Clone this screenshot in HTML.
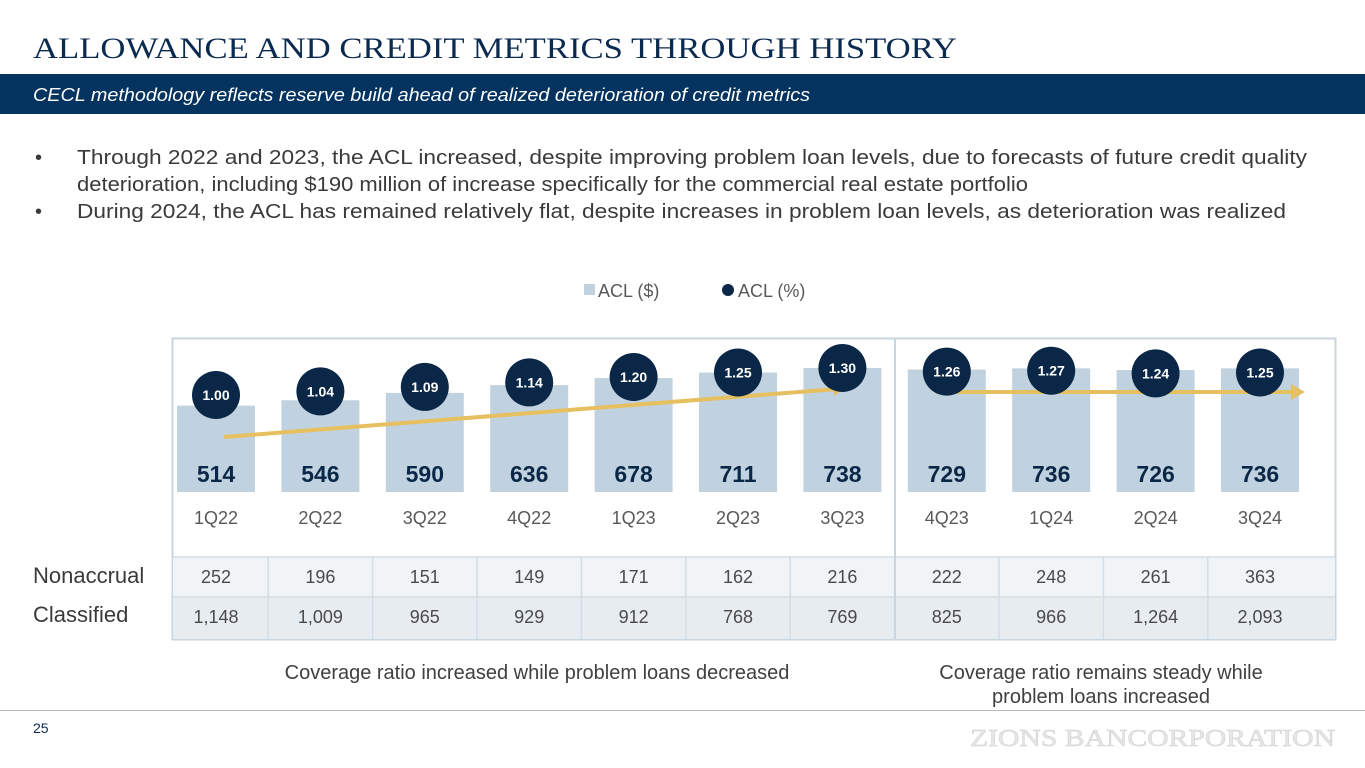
<!DOCTYPE html>
<html><head><meta charset="utf-8"><style>
html,body{margin:0;padding:0;background:#fff;width:1365px;height:768px;overflow:hidden}
svg{display:block}
text{font-family:"Liberation Sans",sans-serif}
</style></head><body>
<svg id="s" width="1365" height="768" viewBox="0 0 1365 768" xmlns="http://www.w3.org/2000/svg">
<text x="33" y="58" style="font-family:'Liberation Serif',serif" font-size="30" fill="#0b2a50" textLength="924" lengthAdjust="spacingAndGlyphs">ALLOWANCE AND CREDIT METRICS THROUGH HISTORY</text>
<rect x="0" y="74" width="1365" height="40" fill="#04335f"/>
<text x="33" y="101" font-size="18" font-style="italic" fill="#fff" textLength="777" lengthAdjust="spacingAndGlyphs">CECL methodology reflects reserve build ahead of realized deterioration of credit metrics</text>
<g font-size="20" fill="#3a3a3a">
<text x="35" y="164">•</text>
<text x="77" y="164" textLength="1230" lengthAdjust="spacingAndGlyphs">Through 2022 and 2023, the ACL increased, despite improving problem loan levels, due to forecasts of future credit quality</text>
<text x="77" y="191" textLength="951" lengthAdjust="spacingAndGlyphs">deterioration, including $190 million of increase specifically for the commercial real estate portfolio</text>
<text x="35" y="218">•</text>
<text x="77" y="218" textLength="1209" lengthAdjust="spacingAndGlyphs">During 2024, the ACL has remained relatively flat, despite increases in problem loan levels, as deterioration was realized</text>
</g>
<g font-size="18" fill="#595959">
<rect x="584" y="284" width="11" height="11" fill="#c0d2e0"/>
<text x="598" y="297">ACL ($)</text>
<circle cx="728" cy="290" r="6" fill="#0a2747"/>
<text x="738" y="297">ACL (%)</text>
</g>
<rect x="172.5" y="338.5" width="1163" height="301" fill="none" stroke="#c8d6e2" stroke-width="2"/>
<g id="table"></g>
<line x1="895" y1="338" x2="895" y2="640" stroke="#c8d6e2" stroke-width="2"/>
<g id="bars"></g>
<g id="trend"></g>
<g id="dots"></g>
<text x="33" y="583" font-size="22" fill="#3a3a3a">Nonaccrual</text>
<text x="33" y="622" font-size="22" fill="#3a3a3a">Classified</text>
<g font-size="20" fill="#404040" text-anchor="middle">
<text x="537" y="679">Coverage ratio increased while problem loans decreased</text>
<text x="1101" y="679">Coverage ratio remains steady while</text>
<text x="1101" y="703">problem loans increased</text>
</g>
<line x1="0" y1="710.5" x2="1365" y2="710.5" stroke="#bdbdbd" stroke-width="1"/>
<text x="33" y="733" font-size="14" fill="#0b2a50">25</text>
<text x="970" y="746" style="font-family:'Liberation Serif',serif" font-size="24" fill="#e6e6e6" stroke="#d0d0d0" stroke-width="0.5" textLength="365" lengthAdjust="spacingAndGlyphs">ZIONS BANCORPORATION</text>
</svg>
<script>
const quarters=["1Q22","2Q22","3Q22","4Q22","1Q23","2Q23","3Q23","4Q23","1Q24","2Q24","3Q24"];
const aclDollars=[514,546,590,636,678,711,738,729,736,726,736];
const aclPct=[1.00,1.04,1.09,1.14,1.20,1.25,1.30,1.26,1.27,1.24,1.25];
const pctLabels=["1.00","1.04","1.09","1.14","1.20","1.25","1.30","1.26","1.27","1.24","1.25"];
const nonaccrual=["252","196","151","149","171","162","216","222","248","261","363"];
const classified=["1,148","1,009","965","929","912","768","769","825","966","1,264","2,093"];

const NS="http://www.w3.org/2000/svg";
function mk(t,a,p){const e=document.createElementNS(NS,t);for(const k in a)e.setAttribute(k,a[k]);p.appendChild(e);return e;}
const x=i=>216+i*104.4;
const yBar=v=>492-v*0.168;
const yPct=v=>395-(v-1)*90;
const bars=document.getElementById('bars'),dots=document.getElementById('dots'),tbl=document.getElementById('table'),trend=document.getElementById('trend');

const r1=mk('rect',{x:173,y:557,width:1162,height:40,fill:'#f1f4f7'},tbl);


const r2=mk('rect',{x:173,y:597,width:1162,height:42,fill:'#e7ecf1'},tbl);


mk('line',{x1:173,y1:557,x2:1335,y2:557,stroke:'#d3dde6','stroke-width':1.5},tbl);
mk('line',{x1:173,y1:597,x2:1335,y2:597,stroke:'#d3dde6','stroke-width':1.5},tbl);
for(let i=1;i<quarters.length;i++){
  mk('line',{x1:x(i)-52.2,y1:557,x2:x(i)-52.2,y2:639,stroke:'#d3dde6','stroke-width':1.5},tbl);
}

quarters.forEach((q,i)=>{
  const cx=x(i);
  const b=mk('rect',{x:cx-39,y:yBar(aclDollars[i]),width:78,height:492-yBar(aclDollars[i]),fill:'#c0d2e0'},bars);
  
  
  const bl=mk('text',{x:cx,y:482,'font-size':23,'font-weight':'bold',fill:'#0a2747','text-anchor':'middle'},bars);
  bl.textContent=aclDollars[i];
  
  
  const ql=mk('text',{x:cx,y:524,'font-size':18,fill:'#595959','text-anchor':'middle'},bars);
  ql.textContent=q;
  
  
  const n=mk('text',{x:cx,y:583,'font-size':18,fill:'#4a4a4a','text-anchor':'middle'},tbl);
  n.textContent=nonaccrual[i];
  
  
  const c=mk('text',{x:cx,y:623,'font-size':18,fill:'#4a4a4a','text-anchor':'middle'},tbl);
  c.textContent=classified[i];
  
  
});

const l1=mk('line',{x1:224,y1:437,x2:837,y2:389,stroke:'#e6c060','stroke-width':4},trend);


mk('polygon',{points:'845,388 832,381 834,396',fill:'#e6c060'},trend);
const l2=mk('line',{x1:936,y1:392,x2:1293,y2:392,stroke:'#e6c060','stroke-width':4},trend);


mk('polygon',{points:'1305,392 1291,384 1291,400',fill:'#e6c060'},trend);

quarters.forEach((q,i)=>{
  const cx=x(i),cy=yPct(aclPct[i]);
  const d=mk('circle',{cx:cx,cy:cy,r:24,fill:'#0a2747'},dots);
  
  
  const t=mk('text',{x:cx,y:cy+5,'font-size':14,'font-weight':'bold',fill:'#fff','text-anchor':'middle'},dots);
  t.textContent=pctLabels[i];
  
  
});
</script>
</body></html>
